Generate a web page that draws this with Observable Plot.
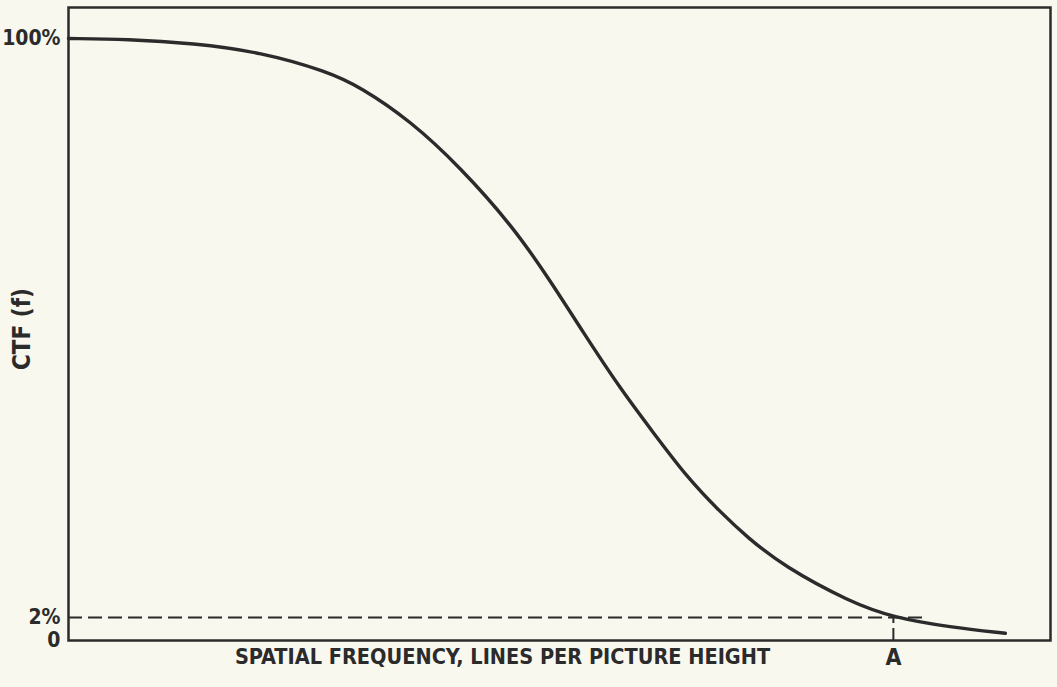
<!DOCTYPE html>
<html>
<head>
<meta charset="utf-8">
<script src="https://cdn.jsdelivr.net/npm/d3@7"></script>
<script src="https://cdn.jsdelivr.net/npm/@observablehq/plot@0.6"></script>
<style>
  html, body { margin: 0; padding: 0; background: #f8f8ef; }
  #chart svg { display: block; }
</style>
</head>
<body>
<div id="chart"></div>
<script>
// Spatial frequency (arbitrary units, 0–100 across the frame)
const freq = [0, 6.0, 12.7, 19.6, 26.4, 29.7, 34.8, 39.9, 45.3, 49.1, 52.4, 56.2, 59.6, 63.0, 66.4, 69.1, 72.8, 79.6, 84.0, 89.8, 95.4];
// CTF (f) in percent
const ctf  = [100, 99.9, 99.2, 97.7, 94.4, 91.8, 86.1, 78.2, 68.1, 58.9, 50.3, 40.7, 33.2, 25.7, 19.8, 15.6, 10.7, 4.6, 2.0, 1.16, 0.63];
// y-axis ticks (the original is not drawn to scale between 0 and 2%)
const yTicks = [0, 2, 100];
const yTickLabels = ["0", "2%", "100%"];
// threshold and cutoff frequency "A"
const threshold = 2;
const cutoffA = 84.0;
const cutoffLabel = "A";
const dashEnd = 87.0;
const xTitle = "SPATIAL FREQUENCY, LINES PER PICTURE HEIGHT";
const yTitle = "CTF (f)";

const data = freq.map((f, i) => ({f, c: ctf[i]}));
const ink = "#2b2b2b";
const font = "'Liberation Sans Narrow', 'DejaVu Sans Condensed', sans-serif";
// the original stretches the 0–2% band: piecewise mapping of the y values
const stretch = d3.scaleLinear().domain([0, 2, 100]).range([0, 23, 602]);

const chart = Plot.plot({
  width: 1057,
  height: 687,
  marginLeft: 68,
  marginRight: 7,
  marginTop: 7,
  marginBottom: 47,
  style: {background: "transparent", fontFamily: font, fontWeight: "bold", color: ink},
  x: {domain: [0, 100]},
  y: {transform: stretch, domain: [0, 602], range: [640, 38]},
  marks: [
    Plot.frame({stroke: ink, strokeWidth: 2.5}),
    Plot.ruleY([threshold], {x1: 0, x2: dashEnd, stroke: ink, strokeWidth: 2, strokeDasharray: "14,6"}),
    Plot.ruleX([cutoffA], {y1: 0, y2: threshold, stroke: ink, strokeWidth: 2, strokeDasharray: "12,5"}),
    Plot.line(data, {x: "f", y: "c", curve: "basis", stroke: ink, strokeWidth: 3.4}),
    Plot.axisY(yTicks, {tickSize: 0, tickPadding: 8, tickFormat: (d) => yTickLabels[yTicks.indexOf(d)], fontSize: 21, fontFamily: font, fontWeight: "bold", label: null}),
    Plot.axisX([cutoffA], {tickSize: 0, tickPadding: 8, tickFormat: () => cutoffLabel, fontSize: 23, fontFamily: font, fontWeight: "bold", label: null}),
    Plot.text([xTitle], {frameAnchor: "bottom", dx: -57, dy: 23, fontSize: 21.5, fontFamily: font, fontWeight: "bold", fill: ink}),
    Plot.text([yTitle], {frameAnchor: "left", textAnchor: "middle", rotate: -90, dx: -46, dy: 5, fontSize: 24, fontFamily: font, fontWeight: "bold", fill: ink})
  ]
});
document.getElementById("chart").appendChild(chart);
</script>
</body>
</html>
